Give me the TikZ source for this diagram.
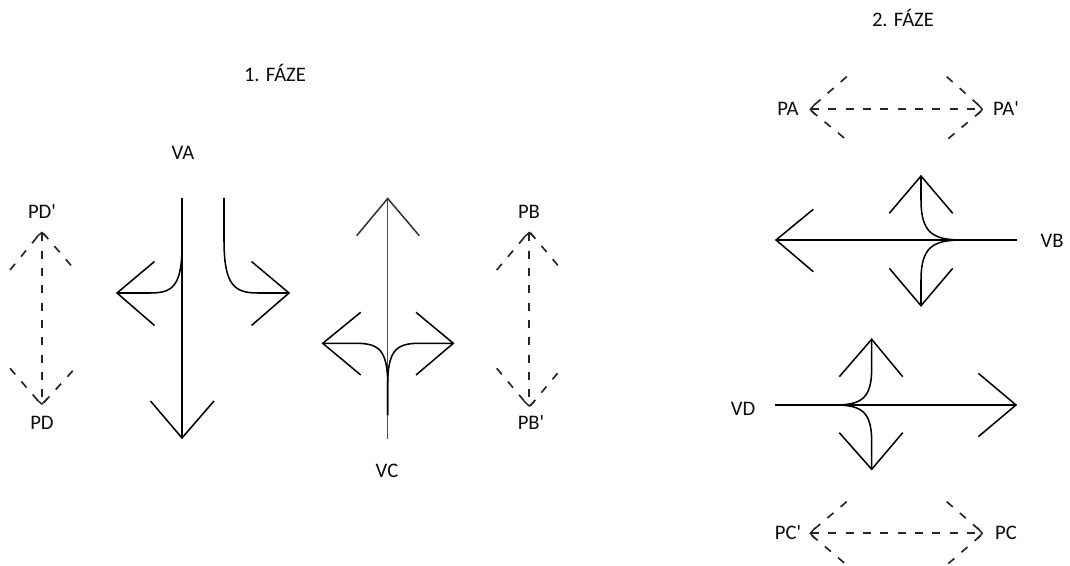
\documentclass[tikz,border=0pt]{standalone}
\usepackage{fontspec}
\setmainfont{Carlito}
\usetikzlibrary{arrows.meta}
\begin{document}
\begin{tikzpicture}[x=0.75pt,y=-0.75pt,
  flow/.style={line width=1.15pt,line join=miter,line cap=butt},
  ped/.style={line width=1.25pt,dash pattern=on 6pt off 7pt,black!85},
  pedarrow/.style={ped,{Straight Barb[length=3.6pt,width=8pt,line width=1.1pt]}-{Straight Barb[length=3.6pt,width=8pt,line width=1.1pt]}},
  lbl/.style={font=\fontsize{15.5}{18}\selectfont,inner sep=0pt,text=black!95}]
\useasboundingbox (0,0) rectangle (1070,566);

% ---------- titles ----------
\node[lbl] (t1) at (275,73) {1. FÁZE};
\node[lbl] (t2) at (903,18) {2. FÁZE};

% ---------- labels ----------
\node[lbl] (va) at (183,153) {VA};
\node[lbl] (vc) at (387,471) {VC};
\node[lbl] (pdp) at (42,212) {PD\textquotesingle};
\node[lbl] (pd) at (42,423) {PD};
\node[lbl] (pb) at (529,212) {PB};
\node[lbl] (pbp) at (531,423) {PB\textquotesingle};
\node[lbl] (vb) at (1052,241) {VB};
\node[lbl] (vd) at (743,409) {VD};
\node[lbl] (pa) at (788,109) {PA};
\node[lbl] (pap) at (1006,109) {PA\textquotesingle};
\node[lbl] (pcp) at (788,533) {PC\textquotesingle};
\node[lbl] (pc) at (1006,533) {PC};

% ---------- VA: straight down, left and right turns ----------
\coordinate (vaS) at (182,198);
\coordinate (vaE) at (182,438);
\coordinate (vaL) at (117,293);
\coordinate (vaR) at (289,293);
\coordinate (vaR0) at (224,198);
\draw[flow] (vaS) -- (vaE);
\draw[flow] (150.5,401) -- (vaE) -- (214,401);
\draw[flow] (182,245) .. controls (182,287) and (172,293) .. (150,293) -- (vaL);
\draw[flow] (154.5,261.5) -- (vaL) -- (154.5,325.5);
\draw[flow] (vaR0) -- (224,240) .. controls (224,285) and (234,293) .. (258,293) -- (vaR);
\draw[flow] (251.5,261.5) -- (vaR) -- (251.5,325.5);

% ---------- VC: straight up, left and right turns ----------
\coordinate (vcS) at (387.7,439);
\coordinate (vcE) at (387.7,198.5);
\coordinate (vcL) at (322.7,343.3);
\coordinate (vcR) at (453.3,343.3);
\draw[flow,black!70] (vcS) -- (vcE);
\draw[flow,black!80] (356.7,235.7) -- (vcE) -- (419.3,235.7);
\draw[flow] (387.7,415) -- (387.7,385) .. controls (387.7,350) and (379,343.3) .. (356,343.3) -- (vcL);
\draw[flow] (387.7,415) -- (387.7,385) .. controls (387.7,350) and (396.4,343.3) .. (419.4,343.3) -- (vcR);
\draw[flow] (360.7,312.3) -- (vcL) -- (360.7,375);
\draw[flow] (416,312.3) -- (vcR) -- (416,375);

% ---------- VB: straight left, turns up and down ----------
\coordinate (vbS) at (1016.7,240);
\coordinate (vbE) at (776,240);
\coordinate (vbU) at (921,176);
\coordinate (vbD) at (921,305.7);
\draw[flow] (vbS) -- (vbE);
\draw[flow] (813.3,209.3) -- (vbE) -- (813.3,271.7);
\draw[flow] (990,240) -- (962,240) .. controls (933,240) and (921,233) .. (921,200) -- (vbU);
\draw[flow] (990,240) -- (962,240) .. controls (933,240) and (921,247) .. (921,280) -- (vbD);
\draw[flow] (889.3,213.3) -- (vbU) -- (952.7,213.3);
\draw[flow] (889.3,268.3) -- (vbD) -- (952.7,268.3);

% ---------- VD: straight right, turns up and down ----------
\coordinate (vdS) at (775,405);
\coordinate (vdE) at (1016,405);
\coordinate (vdU) at (871.7,339.3);
\coordinate (vdD) at (871.7,469.3);
\draw[flow] (vdS) -- (vdE);
\draw[flow] (978.3,373.3) -- (vdE) -- (978.3,436.7);
\draw[flow] (800,405) -- (835,405) .. controls (862,405) and (871.7,398) .. (871.7,368) -- (vdU);
\draw[flow] (800,405) -- (835,405) .. controls (862,405) and (871.7,412) .. (871.7,442) -- (vdD);
\draw[flow] (839.3,376.7) -- (vdU) -- (902.7,376.7);
\draw[flow] (839.3,432.7) -- (vdD) -- (902.7,432.7);

% ---------- pedestrian crossings ----------
% PD
\coordinate (pdT) at (41.7,231.5);
\coordinate (pdB) at (41.7,405);
\draw[pedarrow] (pdT) -- (pdB);
\draw[ped] (10,270) -- (pdT) -- (75,270);
\draw[ped] (10,368.3) -- (pdB) -- (75,368.3);
% PB
\coordinate (pbT) at (529.3,231.5);
\coordinate (pbB) at (529.3,407);
\draw[pedarrow] (pbT) -- (pbB);
\draw[ped] (496.7,270) -- (pbT) -- (561.7,270);
\draw[ped] (496.7,368.3) -- (pbB) -- (561.7,368.3);
% PA
\coordinate (paL) at (809.3,109.3);
\coordinate (paR) at (983.3,109.3);
\draw[pedarrow] (paL) -- (paR);
\draw[ped] (846.7,76.7) -- (paL) -- (846.7,140);
\draw[ped] (946.7,76.7) -- (paR) -- (946.7,140);
% PC
\coordinate (pcL) at (809.3,533.3);
\coordinate (pcR) at (983.3,533.3);
\draw[pedarrow] (pcL) -- (pcR);
\draw[ped] (846.7,501.7) -- (pcL) -- (846.7,565);
\draw[ped] (946.7,501.7) -- (pcR) -- (946.7,565);
\end{tikzpicture}
\end{document}
